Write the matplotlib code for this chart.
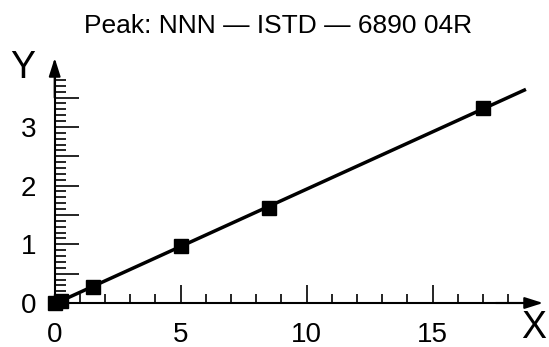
import numpy as np
import matplotlib
matplotlib.use("Agg")
import matplotlib.pyplot as plt
from matplotlib.ticker import FuncFormatter

plt.rcParams['font.family'] = ['Liberation Sans', 'DejaVu Sans']

# data
x_vals = [0.0, 0.25, 1.5, 5.0, 8.5, 17.0]
y_vals = [0.0, 0.04, 0.27, 0.97, 1.62, 3.32]
title = "Peak: NNN \u2014 ISTD \u2014 6890 04R"
x_ticks = [0, 5, 10, 15]
y_ticks = [0, 1, 2, 3]

W, H, DPI = 549, 347, 100
fig = plt.figure(figsize=(W / DPI, H / DPI), dpi=DPI)
ax = fig.add_axes([0, 0, 1, 1])

# pixel mapping: origin at (54.7, 303), 25.2 px per x unit, 58.7 px per y unit
ox, oy, sx, sy = 54.7, 303.0, 25.2, 58.7
ax.set_xlim(-ox / sx, (W - ox) / sx)
ax.set_ylim(-(H - oy) / sy, oy / sy)
ax.patch.set_visible(False)

for s in ['top', 'right']:
    ax.spines[s].set_visible(False)
ax.spines['left'].set_position(('data', 0))
ax.spines['bottom'].set_position(('data', 0))
ax.spines['left'].set_linewidth(1.5)
ax.spines['bottom'].set_linewidth(1.5)
ax.spines['left'].set_bounds(0, 4.0)
ax.spines['bottom'].set_bounds(0, 19.2)

# arrows
x_tip = (543 - ox) / sx
y_tip = (oy - 58) / sy
arrow = dict(arrowstyle='-|>,head_length=1.1,head_width=0.35', lw=1.5,
             color='black', mutation_scale=10, shrinkA=0, shrinkB=0)
ax.annotate('', xy=(x_tip, 0), xytext=(17.5, 0), arrowprops=arrow)
ax.annotate('', xy=(0, y_tip), xytext=(0, 3.5), arrowprops=arrow)

# ticks
ax.set_xticks([t for t in range(0, 19) if t % 5 == 0])
ax.set_xticks([t for t in range(1, 19) if t % 5 != 0], minor=True)
ax.xaxis.set_major_formatter(FuncFormatter(lambda v, p: f"{v:g}" if v in x_ticks else ""))
yt_major = [i * 0.5 for i in range(0, 8)]
yt_minor = [round(i * 0.1, 1) for i in range(1, 39) if i % 5 != 0]
ax.set_yticks(yt_major)
ax.set_yticks(yt_minor, minor=True)
ax.yaxis.set_major_formatter(FuncFormatter(lambda v, p: f"{int(v)}" if abs(v - round(v)) < 1e-9 and int(round(v)) in y_ticks else ""))

ax.tick_params(axis='x', which='major', direction='in', length=13, width=1.2, pad=13.5, labelsize=20)
ax.tick_params(axis='x', which='minor', direction='in', length=6.5, width=1.2)
ax.tick_params(axis='y', which='major', direction='in', length=17, width=1.2, pad=13.5, labelsize=20)
ax.tick_params(axis='y', which='minor', direction='in', length=8, width=1.2)

# fit line
slope, intercept = np.polyfit(x_vals, y_vals, 1)
x_end = 18.7
xf = np.array([0.0, x_end])
ax.plot(xf, slope * xf + intercept, color='black', lw=2.5, solid_capstyle='butt', zorder=3)
ax.plot(x_vals, y_vals, linestyle='none', marker='s', markersize=9.5,
        color='black', clip_on=False, zorder=4)

# labels
fig.text(23 / W, 1 - 68 / H, 'Y', fontsize=27, ha='center', va='center')
fig.text(534 / W, 1 - 328 / H, 'X', fontsize=27, ha='center', va='center')
fig.text(278 / W, 1 - 32.7 / H, title, fontsize=19, ha='center', va='baseline')

fig.savefig('out.png', dpi=DPI)
